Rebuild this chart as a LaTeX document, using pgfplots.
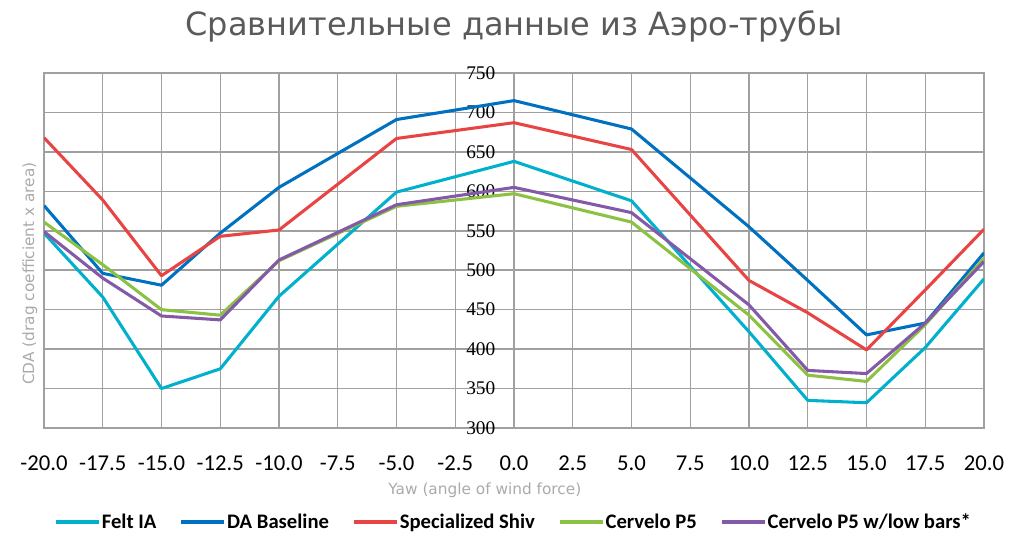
\documentclass[border=0pt]{standalone}
\usepackage{fontspec}
\setmainfont{Carlito}
\newfontfamily\tickfont{Carlito}
\newfontfamily\titlefont{DejaVu Sans}
\newfontfamily\serifnum{Liberation Serif}
\usepackage{pgfplots}
\pgfplotsset{compat=1.18}
\definecolor{cFelt}{RGB}{0,176,204}
\definecolor{cDA}{RGB}{0,112,192}
\definecolor{cShiv}{RGB}{232,68,68}
\definecolor{cP5}{RGB}{140,193,68}
\definecolor{cP5L}{RGB}{132,90,168}
\definecolor{gridc}{RGB}{160,160,160}
\definecolor{labc}{RGB}{170,170,170}
\definecolor{titc}{RGB}{90,90,90}
\begin{document}
\begin{tikzpicture}
\useasboundingbox (-33pt,-90pt) rectangle (735pt,321pt);
\begin{axis}[
  at={(0,0)}, anchor=south west, scale only axis,
  width=705pt, height=266.25pt,
  xmin=-20, xmax=20, ymin=300, ymax=750,
  xtick={-20,-17.5,-15,-12.5,-10,-7.5,-5,-2.5,0,2.5,5,7.5,10,12.5,15,17.5,20},
  xticklabels={-20.0,-17.5,-15.0,-12.5,-10.0,-7.5,-5.0,-2.5,0.0,2.5,5.0,7.5,10.0,12.5,15.0,17.5,20.0},
  ytick={300,350,400,450,500,550,600,650,700,750},
  yticklabels={300,350,400,450,500,550,600,650,700,750},
  grid=major, grid style={color=gridc, line width=1.1pt},
  axis line style={color=gridc, line width=1.1pt},
  major tick length=0pt,
  xticklabel style={font=\tickfont\fontsize{17}{17}\selectfont, text height=11pt, text depth=0pt, yshift=-17pt},
  yticklabel style={font=\serifnum\fontsize{14.5}{14.5}\selectfont, xshift=342pt},
  title={\titlefont\fontsize{24}{24}\selectfont\color{titc}Сравнительные данные из Аэро-трубы},
  title style={at={(axis description cs:0.5,1)}, anchor=center, yshift=29pt},
  xlabel={\titlefont Yaw (angle of wind force)},
  xlabel style={at={(axis description cs:0.469,0)}, anchor=center, yshift=-47pt, color=labc, font=\fontsize{11.5}{12}\selectfont},
  ylabel={\titlefont CDA (drag coefficient x area)},
  ylabel style={at={(axis description cs:0,0.435)}, anchor=center, yshift=10.5pt, color=labc, font=\fontsize{11.5}{12}\selectfont},
  legend columns=5,
  legend style={at={(axis description cs:0.5,0)}, anchor=center, yshift=-70.5pt, draw=none, fill=none,
     font=\bfseries\fontsize{15.5}{16}\selectfont, /tikz/every even column/.append style={column sep=15.5pt},
     /tikz/every odd column/.append style={column sep=-1pt}},
  legend image code/.code={\draw[#1, line width=2.6pt] (0pt,0pt) -- (32pt,0pt);},
  every axis plot/.append style={line width=2.3pt, line join=round},
]
\addplot[cFelt] coordinates {(-20,547) (-17.5,466) (-15,350) (-12.5,375) (-10,467) (-5,599) (0,638) (5,588) (10,422) (12.5,335) (15,332) (17.5,402) (20,489)};
\addlegendentry{Felt IA}
\addplot[cDA] coordinates {(-20,582) (-17.5,496) (-15,481) (-12.5,547) (-10,605) (-5,691) (0,715) (5,679) (10,555) (12.5,487) (15,418) (17.5,433) (20,522)};
\addlegendentry{DA Baseline}
\addplot[cShiv] coordinates {(-20,668) (-17.5,589) (-15,493) (-12.5,543) (-10,551) (-5,667) (0,687) (5,653) (10,487) (12.5,446) (15,399) (17.5,475) (20,552)};
\addlegendentry{Specialized Shiv}
\addplot[cP5] coordinates {(-20,561) (-17.5,507) (-15,450) (-12.5,443) (-10,512) (-5,581) (0,597) (5,561) (10,443) (12.5,367) (15,359) (17.5,431) (20,515)};
\addlegendentry{Cervelo P5}
\addplot[cP5L] coordinates {(-20,549) (-17.5,490) (-15,442) (-12.5,437) (-10,513) (-5,583) (0,605) (5,573) (10,456) (12.5,373) (15,369) (17.5,433) (20,511)};
\addlegendentry{Cervelo P5 w/low bars*}
\end{axis}
\end{tikzpicture}
\end{document}
